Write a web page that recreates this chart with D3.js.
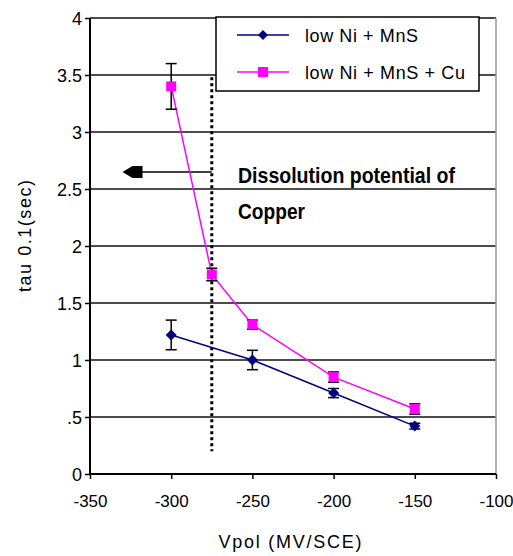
<!DOCTYPE html>
<html>
<head>
<meta charset="utf-8">
<script src="https://cdn.jsdelivr.net/npm/d3@7"></script>
<style>
  html, body { margin: 0; padding: 0; background: #fff; }
  svg { display: block; }
  text { font-family: "Liberation Sans", Arial, sans-serif; fill: #000; }
</style>
</head>
<body>
<svg id="chart" width="513" height="556"></svg>
<script>
// Polarisation potential (mV/SCE) and tau 0.1 values for each alloy
const xTicks = [-350, -300, -250, -200, -150, -100];
const xTickLabels = ["-350", "-300", "-250", "-200", "-150", "-100"];
const yTicks = [0, 0.5, 1, 1.5, 2, 2.5, 3, 3.5, 4];
const yTickLabels = ["0", ".5", "1", "1.5", "2", "2.5", "3", "3.5", "4"];

const seriesNames = ["low Ni + MnS", "low Ni + MnS + Cu"];

const lowNiX = [-300, -250, -200, -150];
const lowNiY = [1.22, 1.0, 0.71, 0.42];
const lowNiErr = [0.13, 0.085, 0.04, 0.025];

const lowNiCuX = [-300, -275, -250, -200, -150];
const lowNiCuY = [3.4, 1.75, 1.31, 0.85, 0.57];
const lowNiCuErr = [0.2, 0.055, 0.04, 0.045, 0.045];

// Copper dissolution potential marker
const cuPotential = -275;
const cuLineRange = [0.2, 3.48];
const arrowY = 2.65;
const arrowTipX = -330;
const noteLines = ["Dissolution potential of", "Copper"];

const svg = d3.select("#chart");

const x = d3.scaleLinear().domain([-350, -100]).range([90, 496]);
const y = d3.scaleLinear().domain([0, 4]).range([474, 18]);

const colors = { blue: "#000080", pink: "#ff00ff" };

// horizontal grid
svg.append("g")
  .selectAll("line")
  .data(yTicks.filter(v => v > 0))
  .join("line")
  .attr("x1", x(-350)).attr("x2", x(-100))
  .attr("y1", d => y(d)).attr("y2", d => y(d))
  .attr("stroke", "#111").attr("stroke-width", 1.4);

// right frame edge
svg.append("line")
  .attr("x1", x(-100)).attr("x2", x(-100))
  .attr("y1", y(4)).attr("y2", y(0))
  .attr("stroke", "#999").attr("stroke-width", 1.5);

// axes
const xAxis = d3.axisBottom(x).tickValues(xTicks).tickSize(5)
  .tickFormat((d, i) => xTickLabels[i]);
const gx = svg.append("g").attr("transform", `translate(0,${y(0)})`).call(xAxis);
gx.select(".domain").attr("stroke", "#000").attr("stroke-width", 2).attr("d", `M${x(-350)},0H${x(-100)}`);
gx.selectAll(".tick line").attr("stroke", "#000").attr("stroke-width", 1.5);
gx.selectAll(".tick text")
  .attr("y", 0).attr("dy", null)
  .attr("transform", "translate(0,33)")
  .style("font-size", "17px")
  .style("font-family", "\"Liberation Sans\", Arial, sans-serif");

const yAxis = d3.axisLeft(y).tickValues(yTicks).tickSize(5)
  .tickFormat((d, i) => yTickLabels[i]);
const gy = svg.append("g").attr("transform", `translate(${x(-350)},0)`).call(yAxis);
gy.select(".domain").attr("stroke", "#000").attr("stroke-width", 2).attr("d", `M0,${y(4)}V${y(0)}`);
gy.selectAll(".tick line").attr("stroke", "#000").attr("stroke-width", 1.5);
gy.selectAll(".tick text")
  .attr("x", -8).attr("dy", "0.36em")
  .style("font-size", "18px")
  .style("font-family", "\"Liberation Sans\", Arial, sans-serif");

// axis titles
svg.append("text")
  .attr("x", 290).attr("y", 548)
  .attr("text-anchor", "middle")
  .attr("textLength", 143)
  .style("font-size", "18px")
  .text("Vpol  (MV/SCE)");

svg.append("text")
  .attr("transform", "translate(31,236) rotate(-90)")
  .attr("text-anchor", "middle")
  .attr("textLength", 112)
  .style("font-size", "18px")
  .text("tau 0.1(sec)");

// dotted line at the copper dissolution potential
svg.append("line")
  .attr("x1", x(cuPotential)).attr("x2", x(cuPotential))
  .attr("y1", y(cuLineRange[1])).attr("y2", y(cuLineRange[0]))
  .attr("stroke", "#000").attr("stroke-width", 3)
  .attr("stroke-dasharray", "3,3");

// arrow pointing to lower potentials
const tipPx = x(arrowTipX), ay = y(arrowY);
svg.append("line")
  .attr("x1", x(cuPotential)).attr("x2", tipPx + 18)
  .attr("y1", ay).attr("y2", ay)
  .attr("stroke", "#000").attr("stroke-width", 1.5);
svg.append("path")
  .attr("d", `M${tipPx},${ay}L${tipPx + 10},${ay - 6}H${tipPx + 20}V${ay + 6}H${tipPx + 10}Z`)
  .attr("fill", "#000");

// annotation
const note = svg.append("g").style("font-weight", "bold").style("font-size", "22px");
note.append("text").attr("x", 238).attr("y", 183)
  .attr("textLength", 217).attr("lengthAdjust", "spacingAndGlyphs")
  .text(noteLines[0]);
note.append("text").attr("x", 238).attr("y", 219)
  .attr("textLength", 67).attr("lengthAdjust", "spacingAndGlyphs")
  .text(noteLines[1]);

// series
const line = d3.line().x(d => x(d[0])).y(d => y(d[1]));
const lowNi = lowNiX.map((v, i) => [v, lowNiY[i], lowNiErr[i]]);
const lowNiCu = lowNiCuX.map((v, i) => [v, lowNiCuY[i], lowNiCuErr[i]]);

svg.append("path").datum(lowNi).attr("d", line)
  .attr("fill", "none").attr("stroke", colors.blue).attr("stroke-width", 1.5);
svg.append("path").datum(lowNiCu).attr("d", line)
  .attr("fill", "none").attr("stroke", colors.pink).attr("stroke-width", 1.5);

// error bars
function errorBars(data) {
  const g = svg.append("g").attr("stroke", "#000").attr("stroke-width", 1.5);
  data.forEach(d => {
    const cx = x(d[0]), top = y(d[1] + d[2]), bot = y(d[1] - d[2]);
    g.append("line").attr("x1", cx).attr("x2", cx).attr("y1", top).attr("y2", bot);
    g.append("line").attr("x1", cx - 5.5).attr("x2", cx + 5.5).attr("y1", top).attr("y2", top);
    g.append("line").attr("x1", cx - 5.5).attr("x2", cx + 5.5).attr("y1", bot).attr("y2", bot);
  });
}
errorBars(lowNi);
errorBars(lowNiCu);

// markers
const diamond = (cx, cy, r) => `M${cx},${cy - r}L${cx + r},${cy}L${cx},${cy + r}L${cx - r},${cy}Z`;
svg.append("g").selectAll("path").data(lowNi).join("path")
  .attr("d", d => diamond(x(d[0]), y(d[1]), 5.5))
  .attr("fill", colors.blue);
svg.append("g").selectAll("rect").data(lowNiCu).join("rect")
  .attr("x", d => x(d[0]) - 5).attr("y", d => y(d[1]) - 5)
  .attr("width", 10).attr("height", 10)
  .attr("fill", colors.pink);

// legend
const legend = svg.append("g");
legend.append("rect")
  .attr("x", 216).attr("y", 17).attr("width", 263).attr("height", 74)
  .attr("fill", "#fff").attr("stroke", "#000").attr("stroke-width", 1.5);
const legendRows = [
  { name: seriesNames[0], color: colors.blue, shape: "diamond", ly: 35, width: 113 },
  { name: seriesNames[1], color: colors.pink, shape: "square", ly: 72, width: 160 }
];
legendRows.forEach(r => {
  legend.append("line").attr("x1", 237).attr("x2", 289).attr("y1", r.ly).attr("y2", r.ly)
    .attr("stroke", r.color).attr("stroke-width", 1.5);
  if (r.shape === "diamond") {
    legend.append("path").attr("d", diamond(263, r.ly, 5)).attr("fill", r.color);
  } else {
    legend.append("rect").attr("x", 258).attr("y", r.ly - 5).attr("width", 10).attr("height", 10)
      .attr("fill", r.color);
  }
  legend.append("text").attr("x", 305).attr("y", r.ly + 7)
    .attr("textLength", r.width)
    .style("font-size", "18px")
    .text(r.name);
});
</script>
</body>
</html>
